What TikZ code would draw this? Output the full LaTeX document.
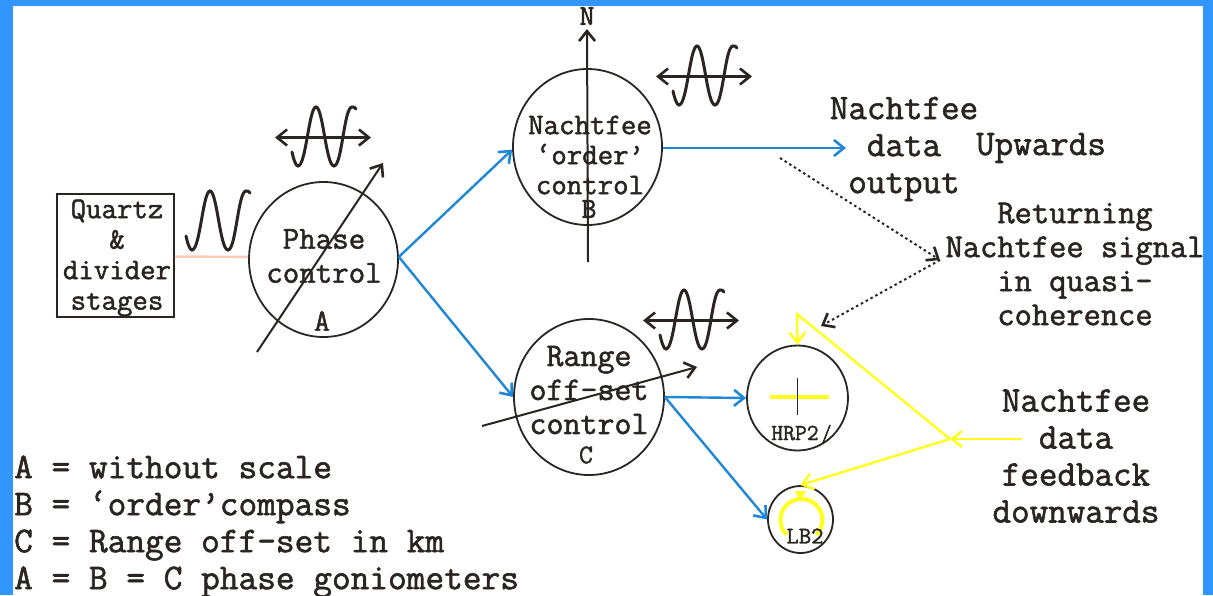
\documentclass[tikz,border=0pt]{standalone}
\usepackage{amsmath}
\usepackage{fontspec}
\setmonofont{Latin Modern Mono}[FakeBold=1.6]
\usetikzlibrary{arrows.meta,shapes.geometric}
\definecolor{frameblue}{HTML}{3296FF}
\definecolor{wireblue}{HTML}{1F88D6}
\definecolor{feedyellow}{HTML}{FFFF1E}
\definecolor{quartzpink}{HTML}{FFC9B8}
\definecolor{inkdark}{HTML}{2A2523}
\newcommand{\labsize}[2]{\ttfamily\fontsize{#1}{#2}\selectfont}
\tikzset{
 unit/.style={draw=inkdark,ellipse,line width=1.8pt,inner sep=0pt},
 lab/.style={text=inkdark,align=center,inner sep=0pt},
 bluewire/.style={wireblue,line width=2.4pt,->},
 yellowire/.style={feedyellow,line width=2.4pt},
 pointer/.style={inkdark,line width=2pt,->},
 echo/.style={inkdark,line width=2pt,dash pattern=on 2.5pt off 3pt,->},
 sinewave/.pic={
  \draw[inkdark,line width=3pt,line cap=round] (-6,-14) .. controls (-4,-5) and (-2,0) .. (0,0)
   .. controls (8,0) and (11,-59) .. (18,-59) .. controls (25,-59) and (28,0) .. (36,0)
   .. controls (44,0) and (46,-59) .. (54,-59) .. controls (56,-59) and (57,-59) .. (58,-57);
 },
 wavearrow/.pic={
  \draw[inkdark,line width=2.2pt,<->] (-23,-28.5) -- (73,-28.5);
 }
}
\begin{document}
\begin{tikzpicture}[x=1pt,y=-1pt,>={Straight Barb[length=10pt,width=16pt,line width=2.6pt]}]
\useasboundingbox (0,0) rectangle (1213,595);
\fill[frameblue] (0,0) rectangle (1213,595);
\fill[white] (13,6) rectangle (1203,595);

\node[draw=inkdark,line width=1.8pt,minimum width=117pt,minimum height=123pt,inner sep=0pt] (quartz) at (115.5,255.5) {};
\node[unit,minimum width=149pt,minimum height=155pt] (phase) at (323.5,259.5) {};
\node[unit,minimum width=149pt,minimum height=156pt] (order) at (587.5,147) {};
\node[unit,minimum width=150pt,minimum height=156pt] (range) at (589,397) {};
\node[unit,minimum width=101pt,minimum height=105pt] (hrp) at (797.5,398) {};
\node[unit,minimum width=65pt,minimum height=67pt] (lb) at (800.5,519.5) {};

\coordinate (orderout) at (846,148);
\coordinate (phasetail) at (257,352);
\coordinate (phasetip) at (383,163);
\coordinate (northtail) at (588,262);
\coordinate (northtip) at (587,29);
\coordinate (rangetail) at (482,426);
\coordinate (rangetip) at (697,367);
\coordinate (echostart) at (780,158);
\coordinate (echomid) at (940,260);
\coordinate (echoend) at (821,326);
\coordinate (feedstart) at (1022,439);
\coordinate (feedmid) at (950,439);
\coordinate (feedtop) at (797,314);

\draw[quartzpink,line width=2.4pt] (quartz.-1) -- (phase.178);
\draw[bluewire] (phase.2) -- (order.182);
\draw[bluewire] (phase.2) -- (range.west);
\draw[bluewire] (order.east |- orderout) -- (orderout);
\draw[bluewire] (range.east) -- (hrp.west);
\draw[bluewire] (range.east) -- (lb.west);

\draw[pointer] (phasetail) -- (phasetip);
\draw[pointer] (northtail) -- (northtip);
\draw[pointer] (rangetail) -- (rangetip);

\draw[echo] (echostart) -- (echomid);
\draw[echo] (echomid) -- (echoend);

\draw[yellowire,->] (feedstart) -- (feedmid);
\draw[yellowire,->] (feedmid) -- (feedtop) -- (hrp.north);
\draw[yellowire,->] (feedmid) -- (lb.north);

\pic at (192,250) {sinewave};
\pic at (298,166) {sinewave};
\pic at (298,166) {wavearrow};
\pic at (679,105) {sinewave};
\pic at (679,105) {wavearrow};
\pic at (666,349) {sinewave};
\pic at (666,349) {wavearrow};

\draw[feedyellow,line width=4.5pt] (770,397) -- (829,397);
\draw[inkdark,line width=1.6pt] (797.5,378) -- (797.5,415);
\draw[inkdark,line width=1.6pt] (830,425) -- (823,443);
\draw[feedyellow,line width=4pt] (786.6,534.8) arc (135:405:21);
\fill[feedyellow] (795,491) -- (806,491) -- (800.5,501) -- cycle;

\node[lab,font=\labsize{30}{30.5}] (quartztext) at (117,258) {Quartz\\\&\\divider\\stages};
\node[lab,font=\labsize{32}{34}] (phasetext) at (324,256) {Phase\\control};
\node[lab,font=\labsize{31}{34}] (phaseA) at (322,321) {A};
\node[lab,font=\labsize{30}{30}] (ordertext) at (590,155) {Nachtfee\\‘order’\\control};
\node[lab,font=\labsize{29}{30}] (orderB) at (589,209) {B};
\node[lab,font=\labsize{33}{34}] (rangetext) at (589,390) {Range\\off-set\\control};
\node[lab,font=\labsize{27}{30}] (rangeC) at (586,455) {C};
\node[lab,font=\labsize{23}{24}] (hrptext) at (795,433) {HRP2};
\node[lab,font=\labsize{24}{24}] (lbtext) at (805,536) {LB2};
\node[lab,font=\labsize{29}{30}] (north) at (587,16) {N};

\node[lab,font=\labsize{36}{37}] (outtext) at (904,149) {Nachtfee\\data\\output};
\node[lab,font=\labsize{36}{37}] (uptext) at (1041,148) {Upwards};
\node[lab,font=\labsize{33.5}{34}] (backtext) at (1075,264) {Returning\\Nachtfee signal\\in quasi-\\coherence};
\node[lab,font=\labsize{36}{37}] (feedtext) at (1076,456) {Nachtfee\\data\\feedback\\downwards};
\node[lab,font=\labsize{36.3}{37},align=left,anchor=west] (legend) at (14,526.5) {A = without scale\\B = ‘order’compass\\C = Range off-set in km\\A = B = C phase goniometers};
\end{tikzpicture}
\end{document}
